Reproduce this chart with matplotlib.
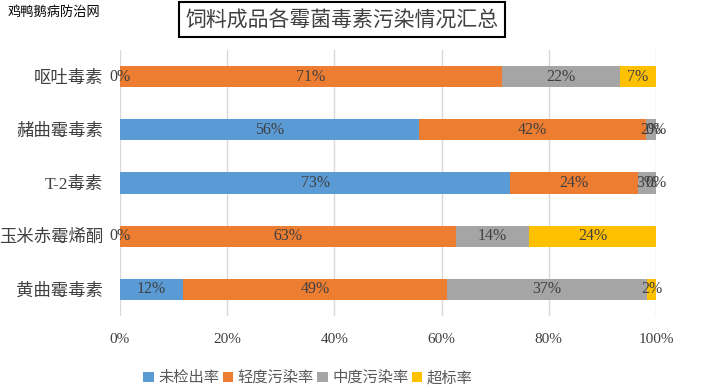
import matplotlib
matplotlib.use('Agg')
import matplotlib.pyplot as plt
import numpy as np

# data (fractions of samples), top to bottom
categories = ['呕吐毒素', '赭曲霉毒素', 'T-2毒素', '玉米赤霉烯酮', '黄曲霉毒素']
series_names = ['未检出率', '轻度污染率', '中度污染率', '超标率']
not_detected = [0.0, 0.558, 0.728, 0.0, 0.118]
light = [0.713, 0.424, 0.238, 0.627, 0.492]
medium = [0.220, 0.018, 0.034, 0.136, 0.374]
over_limit = [0.067, 0.0, 0.0, 0.237, 0.016]
colors = ['#5B9BD5', '#ED7D31', '#A5A5A5', '#FFC000']

fonts = ['Liberation Serif', 'Noto Sans CJK SC']
plt.rcParams['font.family'] = fonts

fig = plt.figure(figsize=(7.03, 3.87), dpi=100)
ax = fig.add_axes([120 / 703, 1 - 316 / 387, 536 / 703, 266 / 387])

y = np.arange(len(categories))
left = np.zeros(len(categories))
for name, vals, c in zip(series_names, [not_detected, light, medium, over_limit], colors):
    vals = np.array(vals)
    ax.barh(y, vals, left=left, height=0.4, color=c, label=name, zorder=2)
    for yi, l, v in zip(y, left, vals):
        ax.text(l + v / 2, yi, f'{round(v * 100):.0f}%', ha='center', va='center',
                fontsize=11.5, color='#404040', zorder=3)
    left += vals

ax.set_xlim(0, 1)
ax.set_ylim(len(categories) - 0.5, -0.5)
ax.set_yticks(y)
ax.set_yticklabels(categories, fontsize=12.5, color='#404040')
ax.set_xticks(np.linspace(0, 1, 6))
ax.set_xticklabels([f'{int(t * 100)}%' for t in np.linspace(0, 1, 6)], fontsize=11, color='#404040')
ax.tick_params(length=0, pad=12)
ax.tick_params(axis='y', pad=12)
ax.grid(axis='x', color='#d9d9d9', linewidth=1, zorder=0)
for s in ax.spines.values():
    s.set_visible(False)

fig.legend(loc='center', bbox_to_anchor=(308 / 703, 1 - 378 / 387), ncol=4, frameon=False,
           fontsize=11, handlelength=0.7, handleheight=0.7, handletextpad=0.3,
           columnspacing=0.2, labelcolor='#595959')

fig.text(342 / 703, 1 - 19.5 / 387, '饲料成品各霉菌毒素污染情况汇总', ha='center', va='center',
         fontsize=15, color='#404040', family='Noto Sans CJK SC',
         bbox=dict(boxstyle='square,pad=0.3', facecolor='white', edgecolor='black', linewidth=1.5))
fig.text(8 / 703, 1 - 12 / 387, '鸡鸭鹅病防治网', ha='left', va='center', fontsize=9.5,
         color='black', family='Noto Sans CJK SC')

fig.savefig('out.png', dpi=100)
